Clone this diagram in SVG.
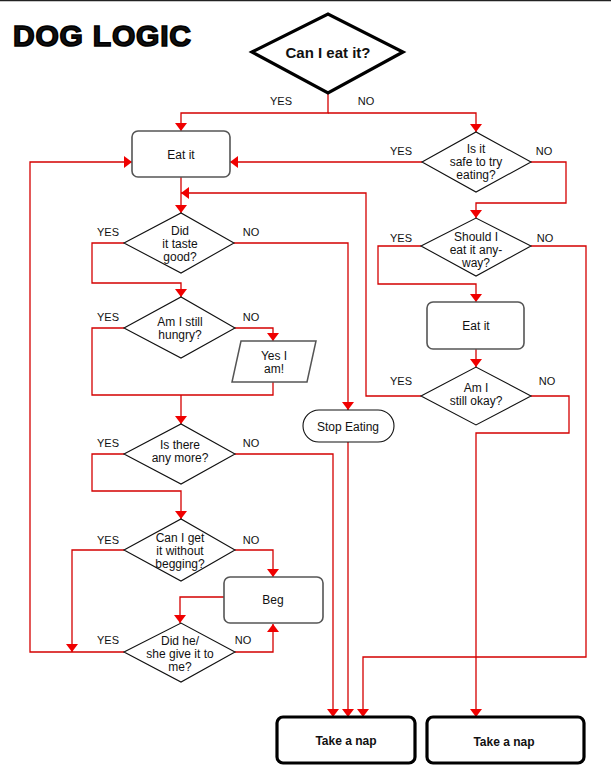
<svg xmlns="http://www.w3.org/2000/svg" width="611" height="775" viewBox="0 0 611 775">
<defs>
<style>
text{font-family:"Liberation Sans",Arial,sans-serif;fill:#111;text-anchor:middle}
.t{font-size:12px}
.lbl{font-size:11px}
.d{fill:#fff;stroke:#111;stroke-width:1.1}
.b{fill:#fff;stroke:#555;stroke-width:1.6}
.nap{fill:#fff;stroke:#000;stroke-width:3.2}
.c path{fill:none;stroke:#d40000;stroke-width:1.3;marker-end:url(#arr)}
.c path.n{marker-end:none}
</style>
<marker id="arr" viewBox="0 0 8 12" refX="8" refY="6" markerWidth="8" markerHeight="12" markerUnits="userSpaceOnUse" orient="auto">
<path d="M0,0 L8,6 L0,12 z" fill="#f00000"/>
</marker>
</defs>
<rect width="611" height="775" fill="#fff"/>
<line x1="0" y1="0.5" x2="611" y2="0.5" stroke="#222" stroke-width="1.5"/>
<text x="13" y="46" style="font-size:30px;font-weight:bold;text-anchor:start;stroke:#000;stroke-width:1.6" textLength="178">DOG LOGIC</text>

<g class="c" id="connectors">
<path d="M328,93 V113 H181 V131"/>
<path d="M328,113 H476 V132"/>
<path d="M422,162 H230"/>
<path d="M531,162 H566 V203 H476 V218"/>
<path d="M181,177 V213"/>
<path d="M421,396 H366 V193 H181"/>
<path d="M124,243 H92 V283 H181 V297"/>
<path d="M234,243 H348 V410"/>
<path d="M235,328 H273 V341"/>
<path class="n" d="M124,328 H92 V395 H273 V382"/>
<path d="M181,395 V424"/>
<path d="M124,454 H92 V491 H181 V519"/>
<path d="M235,454 H333 V717"/>
<path d="M124,550 H72 V652"/>
<path d="M235,550 H273 V577"/>
<path d="M224,597 H180 V623"/>
<path d="M124,652 H30 V162 H132"/>
<path d="M235,652 H273 V624"/>
<path d="M348,442 V717"/>
<path d="M421,246 H378 V284 H476 V302"/>
<path d="M531,246 H586 V657 H363 V717"/>
<path d="M476,349 V367"/>
<path d="M531,396 H569 V433 H476 V717"/>
</g>

<g id="n-caneat">
<polygon points="252,52 328,14 403,52 328,93" fill="#fff" stroke="#000" stroke-width="3.2"/>
<text x="328" y="58" style="font-size:15px;font-weight:bold">Can I eat it?</text>
<text class="lbl" x="281" y="105">YES</text>
<text class="lbl" x="366" y="105">NO</text>
</g>

<g id="n-eatit1">
<rect class="b" x="132" y="131" width="98" height="46" rx="6"/>
<text class="t" x="181" y="159">Eat it</text>
</g>

<g id="n-safe">
<polygon class="d" points="422,162 476,132 531,162 476,192"/>
<text class="t" x="476" y="153">Is it</text>
<text class="t" x="476" y="166">safe to try</text>
<text class="t" x="476" y="179">eating?</text>
<text class="lbl" x="401" y="155">YES</text>
<text class="lbl" x="544" y="155">NO</text>
</g>

<g id="n-taste">
<polygon class="d" points="124,243 181,213 234,243 181,273"/>
<text class="t" x="180" y="235">Did</text>
<text class="t" x="180" y="248">it taste</text>
<text class="t" x="180" y="261">good?</text>
<text class="lbl" x="108" y="236">YES</text>
<text class="lbl" x="251" y="236">NO</text>
</g>

<g id="n-hungry">
<polygon class="d" points="124,328 181,297 235,328 181,358"/>
<text class="t" x="180" y="326">Am I still</text>
<text class="t" x="180" y="339">hungry?</text>
<text class="lbl" x="108" y="321">YES</text>
<text class="lbl" x="251" y="321">NO</text>
</g>

<g id="n-yesiam">
<polygon points="241,341 316,341 307,382 232,382" fill="#fff" stroke="#555" stroke-width="1.5"/>
<text class="t" x="274" y="360">Yes I</text>
<text class="t" x="274" y="373">am!</text>
</g>

<g id="n-stop">
<rect x="303" y="410" width="91" height="32" rx="16" fill="#fff" stroke="#111" stroke-width="1.1"/>
<text class="t" x="348" y="431">Stop Eating</text>
</g>

<g id="n-more">
<polygon class="d" points="124,454 181,424 235,454 181,484"/>
<text class="t" x="180" y="449">Is there</text>
<text class="t" x="180" y="462">any more?</text>
<text class="lbl" x="108" y="447">YES</text>
<text class="lbl" x="251" y="447">NO</text>
</g>

<g id="n-withoutbeg">
<polygon class="d" points="124,550 181,519 235,550 181,581"/>
<text class="t" x="180" y="542">Can I get</text>
<text class="t" x="180" y="555">it without</text>
<text class="t" x="180" y="568">begging?</text>
<text class="lbl" x="108" y="544">YES</text>
<text class="lbl" x="251" y="544">NO</text>
</g>

<g id="n-beg">
<rect class="b" x="224" y="577" width="99" height="46" rx="6"/>
<text class="t" x="273" y="604">Beg</text>
</g>

<g id="n-gave">
<polygon class="d" points="124,652 181,623 235,652 181,682"/>
<text class="t" x="180" y="645">Did he/</text>
<text class="t" x="180" y="658">she give it to</text>
<text class="t" x="180" y="671">me?</text>
<text class="lbl" x="108" y="644">YES</text>
<text class="lbl" x="243" y="644">NO</text>
</g>

<g id="n-anyway">
<polygon class="d" points="421,246 476,218 531,246 476,276"/>
<text class="t" x="476" y="241">Should I</text>
<text class="t" x="476" y="254">eat it any-</text>
<text class="t" x="476" y="267">way?</text>
<text class="lbl" x="401" y="242">YES</text>
<text class="lbl" x="545" y="242">NO</text>
</g>

<g id="n-eatit2">
<rect class="b" x="427" y="302" width="97" height="47" rx="6"/>
<text class="t" x="476" y="330">Eat it</text>
</g>

<g id="n-okay">
<polygon class="d" points="421,396 476,367 531,396 476,425"/>
<text class="t" x="476" y="392">Am I</text>
<text class="t" x="476" y="405">still okay?</text>
<text class="lbl" x="401" y="385">YES</text>
<text class="lbl" x="547" y="385">NO</text>
</g>

<g id="n-nap1">
<rect class="nap" x="277" y="717" width="138" height="46" rx="6"/>
<text x="346" y="745" style="font-size:12px;font-weight:bold">Take a nap</text>
</g>

<g id="n-nap2">
<rect class="nap" x="427" y="717" width="157" height="46" rx="6"/>
<text x="504" y="746" style="font-size:12px;font-weight:bold">Take a nap</text>
</g>
</svg>
